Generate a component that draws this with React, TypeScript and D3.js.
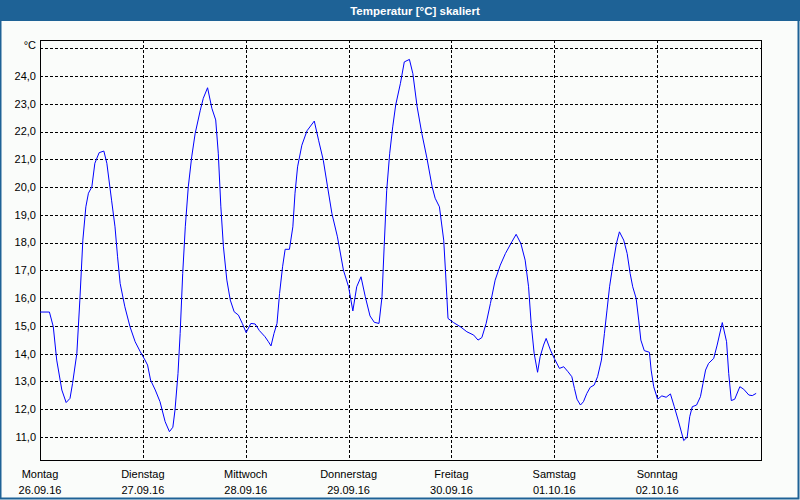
import React from 'react';
import * as d3 from 'd3';

// hours since Monday 00:00 and temperature in °C
const hours = [
  0, 2.2, 3.1, 3.9, 5.1, 6.1, 7.0, 7.6, 8.6, 9.3, 10.0, 10.7, 11.3, 12.1, 12.8, 13.8, 14.9, 15.6, 16.7, 17.5,
  18.1, 18.7, 19.8, 21.0, 22.2, 23.4, 24.5, 25.1, 25.8, 26.9, 28.0, 29.2, 30.2, 31.0, 31.5, 32.2, 32.7, 33.3, 33.9, 34.6,
  35.4, 36.2, 37.4, 38.1, 39.1, 40.1, 41.0, 41.6, 42.2, 42.8, 43.6, 44.4, 45.3, 46.3, 47.2, 48.1, 49.2, 50.2, 51.2, 52.5,
  53.3, 53.9, 54.6, 55.3, 55.9, 56.6, 57.2, 58.2, 59.0, 59.5, 60.1, 61.1, 62.3, 64.0, 65.0, 66.1, 67.1, 68.1, 69.4, 70.8,
  72.0, 73.0, 73.9, 74.9, 75.9, 77.0, 78.0, 79.1, 79.8, 80.3, 80.9, 81.6, 82.3, 83.0, 84.1, 85.0, 86.2, 87.0, 88.0, 89.1,
  90.3, 91.5, 92.2, 93.2, 94.2, 94.6, 95.2, 96.5, 98.1, 99.6, 101.2, 102.2, 103.1, 104.1, 105.1, 106.2, 107.4, 108.6, 110.1, 111.1,
  112.2, 113.2, 114.0, 114.6, 115.3, 116.1, 116.7, 117.5, 118.1, 119.1, 120.0, 121.2, 122.2, 123.2, 124.1, 124.7, 125.3, 126.1, 126.8, 127.6,
  128.4, 129.3, 130.1, 131.0, 131.7, 132.3, 132.9, 133.6, 134.5, 135.2, 136.2, 137.0, 137.7, 138.3, 139.1, 139.7, 140.2, 141.0, 142.2, 142.6,
  143.2, 144.1, 145.1, 146.1, 147.1, 148.0, 148.9, 150.2, 151.0, 151.6, 152.2, 153.2, 154.1, 154.7, 155.3, 156.0, 157.2, 158.0, 159.2, 160.2,
  160.7, 161.3, 162.1, 163.3, 164.2, 165.4, 166.2, 167.1,
];
const temps = [
  15.5, 15.5, 14.97, 13.77, 12.69, 12.24, 12.39, 12.93, 14.01, 15.93, 18.09, 19.29, 19.78, 20.01, 20.86, 21.24, 21.3, 20.86, 19.53, 18.57,
  17.49, 16.53, 15.69, 14.97, 14.43, 14.07, 13.77, 13.59, 13.05, 12.69, 12.27, 11.55, 11.19, 11.35, 11.97, 13.29, 14.73, 16.89, 18.57, 20.01,
  21.09, 21.93, 22.77, 23.2, 23.58, 22.84, 22.42, 21.22, 19.29, 17.85, 16.65, 15.93, 15.51, 15.39, 15.09, 14.76, 15.09, 15.07, 14.83, 14.61,
  14.43, 14.28, 14.73, 15.09, 16.17, 17.13, 17.76, 17.76, 18.57, 19.78, 20.73, 21.51, 22.03, 22.38, 21.69, 20.97, 20.01, 19.06, 18.21, 17.01,
  16.41, 15.54, 16.41, 16.77, 16.05, 15.36, 15.13, 15.09, 16.05, 17.85, 19.89, 21.22, 22.17, 22.96, 23.74, 24.51, 24.6, 24.09, 22.89, 21.93,
  21.03, 20.01, 19.6, 19.29, 18.09, 17.01, 15.27, 15.12, 14.97, 14.79, 14.67, 14.49, 14.58, 15.09, 15.81, 16.65, 17.19, 17.61, 18.03, 18.3,
  17.97, 17.37, 16.41, 15.09, 14.01, 13.33, 13.89, 14.31, 14.55, 14.13, 13.83, 13.47, 13.53, 13.35, 13.17, 12.75, 12.36, 12.15, 12.27, 12.57,
  12.79, 12.87, 13.17, 13.77, 14.73, 15.57, 16.41, 17.13, 17.97, 18.39, 18.09, 17.61, 16.89, 16.41, 15.99, 15.21, 14.49, 14.11, 14.05, 13.41,
  12.81, 12.36, 12.48, 12.43, 12.55, 12.09, 11.61, 10.87, 10.99, 11.73, 12.09, 12.15, 12.45, 12.93, 13.41, 13.65, 13.83, 14.31, 15.12, 14.43,
  13.29, 12.31, 12.36, 12.81, 12.72, 12.51, 12.49, 12.57,
];

const weekdays = ['Montag', 'Dienstag', 'Mittwoch', 'Donnerstag', 'Freitag', 'Samstag', 'Sonntag'];
const dates = ['26.09.16', '27.09.16', '28.09.16', '29.09.16', '30.09.16', '01.10.16', '02.10.16'];
const yTicks = [11, 12, 13, 14, 15, 16, 17, 18, 19, 20, 21, 22, 23, 24];
const unitTick = 25;

const font = '"Liberation Sans", Arial, sans-serif';
const barColor = '#1e6296';

const App: React.FC = () => {
  const W = 800;
  const H = 500;
  const left = 40, right = 761, top = 40, bottom = 460;

  const x = d3.scaleLinear().domain([0, 168]).range([left, right - 1]);
  const y = d3.scaleLinear().domain([10.17, 25.3]).range([bottom, top]);

  const points = hours.map((h, i) => [h, temps[i]] as [number, number]);
  const line = d3.line<[number, number]>().x((d) => x(d[0])).y((d) => y(d[1]));

  React.useEffect(() => {
    document.body.style.margin = '0';
  }, []);

  return (
    <svg width={W} height={H} style={{ display: 'block', fontFamily: font }}>
      {/* window background + frame */}
      <rect x={0} y={0} width={W} height={H} fill="#fafcfa" />
      <rect x={0.5} y={0.5} width={W - 2} height={H - 2} fill="none" stroke={barColor} strokeWidth={2} />
      <rect x={0} y={0} width={W} height={21} fill={barColor} />
      <text x={415} y={14.5} fill="#fff" fontSize={11.5} fontWeight="bold" textAnchor="middle">
        Temperatur [°C] skaliert
      </text>

      {/* horizontal grid */}
      <g shapeRendering="crispEdges">
        {[...yTicks, unitTick].map((t) => (
          <line key={t} x1={left} x2={right} y1={Math.round(y(t)) + 0.5} y2={Math.round(y(t)) + 0.5}
            stroke="#000" strokeDasharray="3,2" />
        ))}
        {d3.range(1, 7).map((d) => (
          <line key={d} x1={Math.round(x(d * 24)) + 0.5} x2={Math.round(x(d * 24)) + 0.5} y1={top} y2={bottom}
            stroke="#000" strokeDasharray="3,2" />
        ))}
        <rect x={left + 0.5} y={top + 0.5} width={right - left} height={bottom - top} fill="none" stroke="#000" />
      </g>

      {/* y labels */}
      {yTicks.map((t) => (
        <text key={t} x={36} y={y(t)} dy="0.35em" fontSize={11} textAnchor="end" fill="#000">
          {d3.format('.1f')(t).replace('.', ',')}
        </text>
      ))}
      <text x={36} y={y(unitTick)} dy="0.1em" fontSize={11} textAnchor="end" fill="#000">°C</text>

      {/* x labels */}
      {weekdays.map((w, i) => (
        <g key={w} transform={`translate(${x(i * 24)},0)`}>
          <text y={478} fontSize={11} textAnchor="middle" fill="#000">{w}</text>
          <text y={494} fontSize={11} textAnchor="middle" fill="#000">{dates[i]}</text>
        </g>
      ))}

      <path d={line(points) || ''} fill="none" stroke="#0000ff" strokeWidth={1} />
    </svg>
  );
};

export default App;
